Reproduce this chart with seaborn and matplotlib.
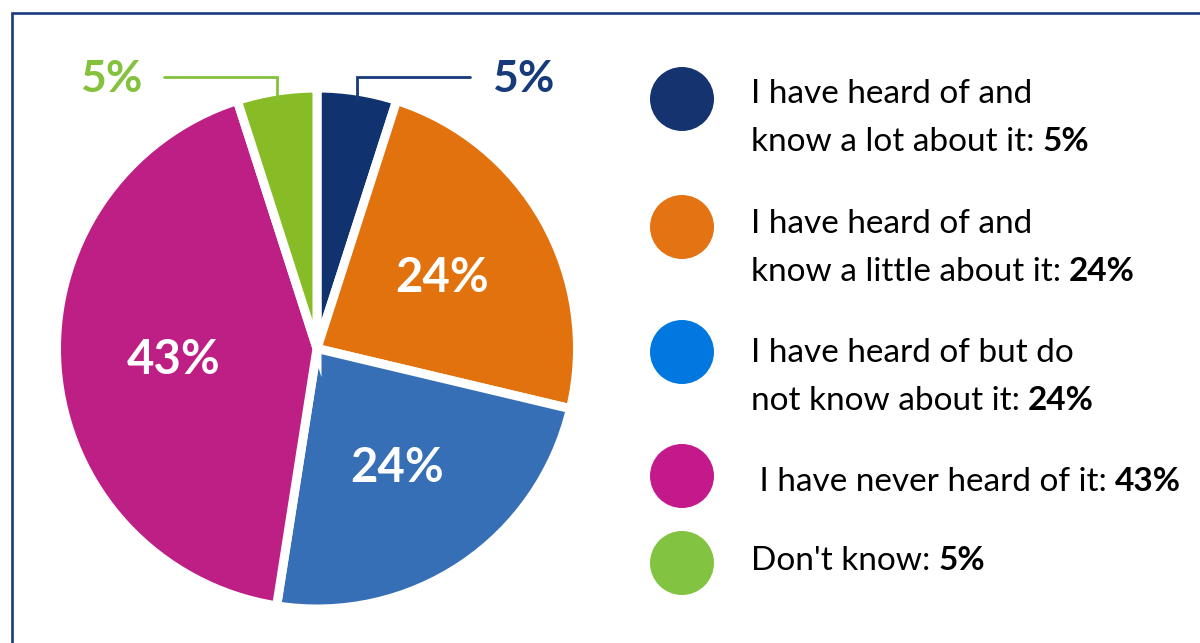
import matplotlib
matplotlib.use("Agg")
import matplotlib.pyplot as plt
import seaborn as sns
import numpy as np
from matplotlib.lines import Line2D
from matplotlib.patches import Circle

# ---- data -------------------------------------------------------------
categories = [
    "I have heard of and\nknow a lot about it:",
    "I have heard of and\nknow a little about it:",
    "I have heard of but do\nnot know about it:",
    " I have never heard of it:",
    "Don't know:",
]
shares = [5, 24, 24, 43, 5]
value_labels = [f"{v}%" for v in shares]

# ---- styling ----------------------------------------------------------
pie_colors = ["#10336f", "#e1720e", "#366fb5", "#be1f85", "#87bc26"]
dot_colors = ["#15346f", "#e37313", "#0078e0", "#c4198b", "#82c341"]
outer_label_colors = {0: "#173a7a", 4: "#84c13c"}
frame_color = "#1a3a80"

sns.set_theme(style="white")
plt.rcParams["font.family"] = ["Lato", "DejaVu Sans"]

W, H = 1200, 643
fig = plt.figure(figsize=(W / 100, H / 100), dpi=100)
fig.patch.set_facecolor("white")

# one axes over the whole canvas, 1 data unit == 1 pixel (y upward)
ax = fig.add_axes([0, 0, 1, 1])
ax.set_axis_off()

cx, cy = 317, H - 348.5
R_vis = 256
edge_lw_px = 9
R = R_vis + edge_lw_px / 2

wedges, _ = ax.pie(
    shares,
    colors=pie_colors,
    startangle=90,
    counterclock=False,
    center=(cx, cy),
    radius=R,
    wedgeprops=dict(edgecolor="white", linewidth=edge_lw_px * 72 / 100),
)
ax.set_xlim(0, W)
ax.set_ylim(0, H)
ax.set_aspect("auto")

# in-slice labels for the large shares, leader-line labels for the small ones
for i, w in enumerate(wedges):
    mid = np.deg2rad((w.theta1 + w.theta2) / 2)
    if shares[i] >= 10:
        r = 0.56 * R_vis
        ax.text(cx + r * np.cos(mid), cy + r * np.sin(mid), value_labels[i],
                ha="center", va="center", color="white",
                fontsize=34, fontweight="bold")
    else:
        col = outer_label_colors[i]
        ax_x = cx + R_vis * np.cos(mid)
        ax_y = cy + 0.985 * R_vis * np.sin(mid)
        elbow_y = H - 77
        side = 1 if np.cos(mid) > 0 else -1
        end_x = ax_x + side * 113
        ax.add_line(Line2D([ax_x, ax_x, end_x], [ax_y, elbow_y, elbow_y],
                           color=col, lw=2.0, solid_joinstyle="miter"))
        ax.text(end_x + side * 22, H - 79, value_labels[i],
                ha="left" if side > 0 else "right", va="center",
                color=col, fontsize=32, fontweight="bold")

# legend: coloured dots with two-line descriptions, value in bold
dot_x, dot_r = 682, 32
dot_y = [99, 227, 352, 476, 563]
text_x = 751
first_baseline = [103, 233, 362, 491, 570]
line_gap = 48
legend_fs = 24.0

fig.canvas.draw()
renderer = fig.canvas.get_renderer()
for i, cat in enumerate(categories):
    ax.add_patch(Circle((dot_x, H - dot_y[i]), dot_r, color=dot_colors[i], lw=0))
    lines = cat.split("\n")
    for j, line in enumerate(lines):
        y = H - (first_baseline[i] + j * line_gap)
        t = ax.text(text_x, y, line, ha="left", va="baseline",
                    color="black", fontsize=legend_fs)
        if j == len(lines) - 1:
            bb = t.get_window_extent(renderer=renderer)
            ax.text(bb.x1 + 8, y, value_labels[i], ha="left", va="baseline",
                    color="black", fontsize=legend_fs, fontweight="bold")

# border framing the chart (open to the right and bottom)
fig.add_artist(Line2D([11.5 / W, 11.5 / W, 1.0], [0.0, 1 - 12.8 / H, 1 - 12.8 / H],
                      transform=fig.transFigure, color=frame_color, lw=1.9,
                      solid_joinstyle="miter"))

fig.savefig("out.png", dpi=100, facecolor="white")
